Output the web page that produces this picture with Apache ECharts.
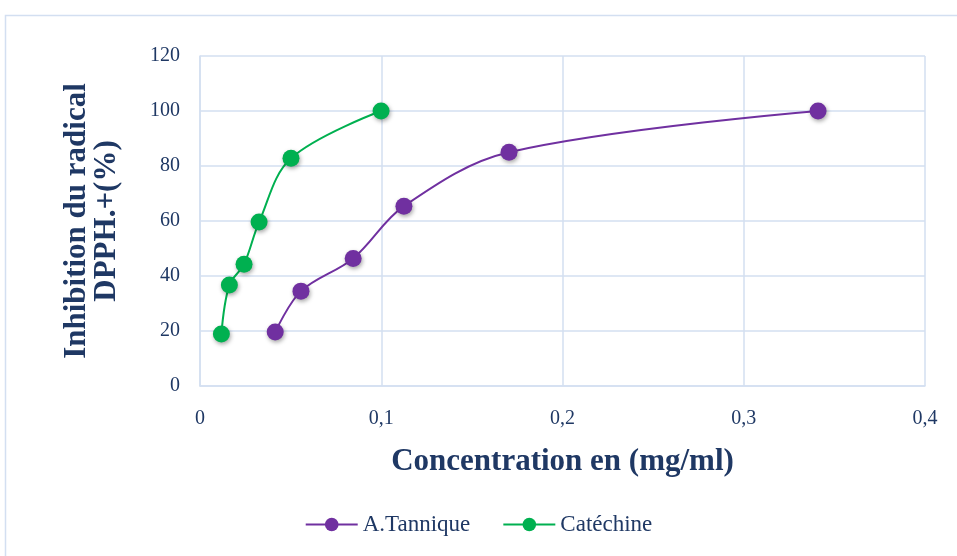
<!DOCTYPE html>
<html><head><meta charset="utf-8">
<script src="https://cdn.jsdelivr.net/npm/echarts@6/dist/echarts.min.js"></script>
<style>html,body{margin:0;padding:0;background:#fff}#c{width:957px;height:556px}</style>
</head><body><div id="c"></div>
<script>
const tanX = [0.0415, 0.0557, 0.0845, 0.1125, 0.1705, 0.341];
const tanY = [19.6, 34.5, 46.4, 65.4, 85.0, 100.0];
const catX = [0.0118, 0.0162, 0.0243, 0.0326, 0.0502, 0.0999];
const catY = [18.9, 36.7, 44.3, 59.6, 82.8, 100.0];
const seriesNames = ['A.Tannique', 'Catéchine'];
const xTicks = [0, 0.1, 0.2, 0.3, 0.4];
const yTicks = [0, 20, 40, 60, 80, 100, 120];

const txt = '#1F3864';
const gridC = '#D3DFF1';
const chart = echarts.init(document.getElementById('c'));
function pairs(xs, ys){ return xs.map((x,i)=>[x, ys[i]]); }
const mk = (name, color, xs, ys) => ({
  name, type:'line', data: pairs(xs, ys), smooth: 0.35,
  symbol:'circle', symbolSize:17,
  lineStyle:{color, width:2},
  itemStyle:{color, shadowColor:'rgba(0,0,0,0.35)', shadowBlur:4, shadowOffsetX:1, shadowOffsetY:2}
});
chart.setOption({
  animation:false,
  graphic:[{type:'rect', shape:{x:5.5,y:15.5,width:960,height:550}, style:{fill:'none', stroke:'#D3DFF1', lineWidth:1.5}}],
  grid:{left:200, right:32, top:56, bottom:170},
  xAxis:{type:'value', min:0, max:0.4, interval:0.1,
    name:'Concentration en (mg/ml)', nameLocation:'middle', nameGap:60,
    nameTextStyle:{fontFamily:'Liberation Serif', fontWeight:'bold', fontSize:31, color:txt},
    axisLine:{show:true, lineStyle:{color:gridC, width:1.5}}, axisTick:{show:false},
    splitLine:{show:true, lineStyle:{color:gridC, width:1.5}},
    axisLabel:{margin:23, fontFamily:'Liberation Serif', fontSize:20, color:txt,
      formatter:v=>{const t=xTicks.find(a=>Math.abs(a-v)<1e-9); return t===0?'0':String(t).replace('.',',');}}},
  yAxis:{type:'value', min:0, max:120, interval:20,
    name:'Inhibition du radical\nDPPH.+(%)', nameLocation:'middle', nameGap:78, nameRotate:90,
    nameTextStyle:{fontFamily:'Liberation Serif', fontWeight:'bold', fontSize:31, color:txt, lineHeight:30},
    axisLine:{show:true, lineStyle:{color:gridC, width:1.5}}, axisTick:{show:false},
    splitLine:{show:true, lineStyle:{color:gridC, width:1.5}},
    axisLabel:{margin:20, fontFamily:'Liberation Serif', fontSize:20, color:txt,
      formatter:v=>String(yTicks.find(a=>a===v) ?? v)}},
  legend:{bottom:15, left:'center', itemWidth:52, itemHeight:17, itemGap:32,
    textStyle:{fontFamily:'Liberation Serif', fontSize:23, color:txt},
    data:seriesNames},
  series:[ mk(seriesNames[0], '#7030A0', tanX, tanY), mk(seriesNames[1], '#00B050', catX, catY) ]
});
</script></body></html>
